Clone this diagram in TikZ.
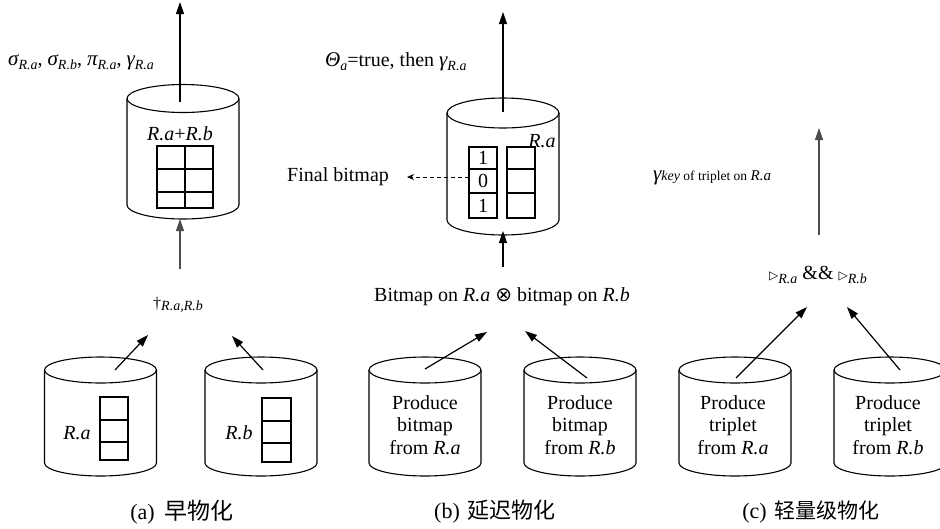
\documentclass[tikz,border=0pt]{standalone}
\usepackage{fontspec}
\setmainfont{Liberation Serif}
\newfontfamily\cjkfont{Noto Sans CJK SC}
\newfontfamily\glyphfont{DejaVu Sans}
\usetikzlibrary{arrows.meta}

% lowered, smaller italic text used as a subscript
\newcommand{\lowtext}[2][14]{\raisebox{-4pt}{\fontsize{#1}{#1}\selectfont\itshape #2}}
% a drum (cylinder): centre x, top centre y, bottom centre y, x radius, y radius
\newcommand{\drawcan}[5]{%
  \draw[canline] ({#1-#4},#2) -- ({#1-#4},#3)
     arc[start angle=180,end angle=0,x radius=#4,y radius=#5] -- ({#1+#4},#2);
  \draw[canline] (#1,#2) ellipse[x radius=#4,y radius=#5];
}

\tikzset{
  canline/.style={line width=1.1pt, black},
  flow/.style={line width=1.2pt, -{Triangle[length=12pt,width=8pt]}},
  softflow/.style={flow, black!70},
  cellbox/.style={line width=1.2pt},
  lbl/.style={inner sep=0pt, font=\fontsize{20}{22.5}\selectfont},
  cantext/.style={lbl, align=center},
  captionlbl/.style={inner sep=0pt, font=\fontsize{22}{24}\selectfont},
}

\begin{document}
\begin{tikzpicture}[x=1pt,y=-1pt]
\useasboundingbox[fill=white] (0,0) rectangle (940,528);

% ---------------- (a) early materialization ----------------
\drawcan{183}{98.5}{205}{56}{14}
\node[lbl] (aMerged) at (180,134) {\textit{R.a}+\textit{R.b}};
\draw[cellbox] (157,146) rectangle (213,208);
\draw[cellbox] (185,146) -- (185,208) (157,169) -- (213,169) (157,192) -- (213,192);

\coordinate (aTopIn) at (180,102);
\coordinate (aTopOut) at (180,2);
\draw[flow] (aTopIn) -- (aTopOut);
\node[lbl, anchor=west] (aOps) at (8,62)
  {{\fontsize{21}{21}\selectfont\itshape σ}\lowtext{R.a}, {\fontsize{21}{21}\selectfont\itshape σ}\lowtext{R.b}, {\fontsize{21}{21}\selectfont\itshape π}\lowtext{R.a}, {\fontsize{21}{21}\selectfont\itshape γ}\lowtext{R.a}};

\coordinate (aJoinIn) at (180,269);
\coordinate (aJoinOut) at (180,219);
\draw[softflow] (aJoinIn) -- (aJoinOut);
\node[inner sep=0pt, anchor=west] (aJoin) at (153,305)
  {{\fontsize{16}{16}\selectfont †}\raisebox{-2pt}{\fontsize{14}{14}\selectfont\itshape R.a,R.b}};

\drawcan{100.5}{370}{463}{56}{13}
\node[lbl] (aLeftName) at (77,433) {\textit{R.a}};
\draw[cellbox] (100,397) rectangle (128,460);
\draw[cellbox] (100,420) -- (128,420) (100,442) -- (128,442);
\coordinate (aLeftIn) at (115,370);
\coordinate (aLeftOut) at (148,335);
\draw[flow] (aLeftIn) -- (aLeftOut);

\drawcan{261}{370}{463}{56}{13}
\node[lbl] (aRightName) at (239,433) {\textit{R.b}};
\draw[cellbox] (262,398) rectangle (291,462);
\draw[cellbox] (262,421) -- (291,421) (262,443) -- (291,443);
\coordinate (aRightIn) at (263,370);
\coordinate (aRightOut) at (232,336);
\draw[flow] (aRightIn) -- (aRightOut);

\node[captionlbl] (aCaption) at (182,512) {(a)\hspace{10pt}{\cjkfont\fontsize{23}{24}\selectfont 早物化}};

% ---------------- (b) late materialization ----------------
\drawcan{503}{113}{220}{56}{15}
\node[lbl] (bName) at (542,141) {\textit{R.a}};
\draw[cellbox] (469,147) rectangle (497,218);
\draw[cellbox] (469,169) -- (497,169) (469,193) -- (497,193);
\draw[cellbox] (507,147) rectangle (535,218);
\draw[cellbox] (507,169) -- (535,169) (507,193) -- (535,193);
\node[lbl] (bitOne) at (483,158) {1};
\node[lbl] (bitZero) at (483,181) {0};
\node[lbl] (bitTwo) at (483,205.5) {1};

\node[lbl, anchor=west] (bFinal) at (287,177) {Final bitmap};
\coordinate (bFinalFrom) at (469,177);
\coordinate (bFinalTip) at (407,177);
\draw[line width=1pt, dash pattern=on 4pt off 3pt, -{Stealth[length=7pt,width=6pt]}]
  (bFinalFrom) -- (bFinalTip);

\coordinate (bTopIn) at (503,112);
\coordinate (bTopOut) at (503,12);
\draw[flow] (bTopIn) -- (bTopOut);
\node[lbl, anchor=west] (bOps) at (325,62)
  {{\fontsize{21}{21}\selectfont\itshape Θ}\lowtext{a}=true, then {\fontsize{21}{21}\selectfont\itshape γ}\lowtext{R.a}};

\coordinate (bJoinIn) at (503,267);
\coordinate (bJoinOut) at (503,231);
\draw[flow] (bJoinIn) -- (bJoinOut);
\node[lbl] (bJoin) at (502,297)
  {Bitmap on \textit{R.a} {\glyphfont ⊗} bitmap on \textit{R.b}};

\drawcan{425}{370}{463}{56}{13}
\node[cantext] (bLeftText) at (425,425) {Produce\\bitmap\\from \textit{R.a}};
\coordinate (bLeftIn) at (425,369);
\coordinate (bLeftOut) at (487,332);
\draw[flow] (bLeftIn) -- (bLeftOut);

\drawcan{580}{370}{463}{56}{13}
\node[cantext] (bRightText) at (580,425) {Produce\\bitmap\\from \textit{R.b}};
\coordinate (bRightIn) at (587,378);
\coordinate (bRightOut) at (525,331);
\draw[flow] (bRightIn) -- (bRightOut);

\node[captionlbl] (bCaption) at (495,512) {(b)\hspace{8pt}{\cjkfont 延迟物化}};

% ---------------- (c) lightweight materialization ----------------
\coordinate (cTopIn) at (819,235);
\coordinate (cTopOut) at (819,128);
\draw[softflow] (cTopIn) -- (cTopOut);
\node[inner sep=0pt, anchor=west] (cOps) at (653,178)
  {{\fontsize{21}{21}\selectfont\itshape γ}{\fontsize{14}{14}\selectfont\itshape key}{\fontsize{13.5}{13.5}\selectfont\ of triplet on }{\fontsize{15}{15}\selectfont\itshape R.a}};

\node[lbl] (cJoin) at (818,275)
  {{\glyphfont\fontsize{12}{12}\selectfont ▷}\lowtext{R.a}\ \&\&\ {\glyphfont\fontsize{12}{12}\selectfont ▷}\lowtext{R.b}};

\drawcan{735}{370}{463}{56}{13}
\node[cantext] (cLeftText) at (733,425) {Produce\\triplet\\from \textit{R.a}};
\coordinate (cLeftIn) at (736,378);
\coordinate (cLeftOut) at (807,307);
\draw[flow] (cLeftIn) -- (cLeftOut);

\drawcan{890}{370}{463}{56}{13}
\node[cantext] (cRightText) at (888,425) {Produce\\triplet\\from \textit{R.b}};
\coordinate (cRightIn) at (900,370);
\coordinate (cRightOut) at (847,307);
\draw[flow] (cRightIn) -- (cRightOut);

\node[captionlbl] (cCaption) at (811,512) {(c)\hspace{8pt}{\cjkfont\fontsize{21}{24}\selectfont 轻量级物化}};
\end{tikzpicture}
\end{document}
